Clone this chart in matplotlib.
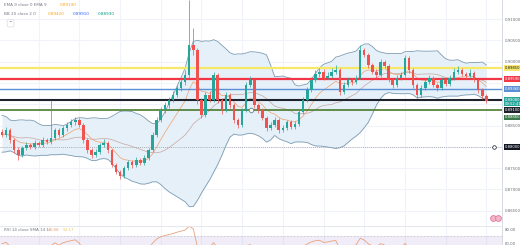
import numpy as np
import pandas as pd
import matplotlib.pyplot as plt
from matplotlib.transforms import blended_transform_factory

# ---- data ----
# closes before the first visible candle, only used to warm up the indicators
warmup_close = [0.8860, 0.8875, 0.8850, 0.8830, 0.8805, 0.8790, 0.8812, 0.8840, 0.8858, 0.8846,
                0.8820, 0.8800, 0.8815, 0.8838, 0.8852, 0.8830, 0.8808, 0.8820, 0.8835]

closes = [0.8828, 0.8839, 0.8816, 0.8792, 0.8781, 0.8797, 0.8804, 0.8800, 0.8809, 0.8804,
          0.8816, 0.8811, 0.8821, 0.8839, 0.8828, 0.8844, 0.8851, 0.8858, 0.8863, 0.8851,
          0.8816, 0.8792, 0.8781, 0.8788, 0.8804, 0.8809, 0.8792, 0.8757, 0.8741, 0.8731,
          0.8750, 0.8764, 0.8757, 0.8769, 0.8762, 0.8774, 0.8792, 0.8828, 0.8863, 0.8886,
          0.8898, 0.8910, 0.8922, 0.8938, 0.8952, 0.8969, 0.9039, 0.9027, 0.8910, 0.8875,
          0.8922, 0.8910, 0.8969, 0.8910, 0.8886, 0.8922, 0.8898, 0.8863, 0.8851, 0.8886,
          0.8945, 0.8957, 0.8898, 0.8886, 0.8868, 0.8844, 0.8851, 0.8863, 0.8839, 0.8844,
          0.8858, 0.8846, 0.8854, 0.8882, 0.8910, 0.8933, 0.8957, 0.8971, 0.8976, 0.8962,
          0.8966, 0.8976, 0.8980, 0.8929, 0.8945, 0.8957, 0.8952, 0.8962, 0.9027, 0.9016,
          0.8992, 0.8976, 0.8969, 0.8999, 0.8990, 0.8957, 0.8945, 0.8962, 0.8969, 0.9008,
          0.8980, 0.8945, 0.8922, 0.8938, 0.8952, 0.8962, 0.8945, 0.8938, 0.8957, 0.8947,
          0.8962, 0.8976, 0.8980, 0.8971, 0.8966, 0.8973, 0.8957, 0.8933, 0.8919, 0.8908]

highs = [0.8842, 0.8846, 0.8843, 0.8820, 0.8799, 0.8803, 0.8812, 0.8810, 0.8815, 0.8814,
         0.8822, 0.8821, 0.8910, 0.8845, 0.8844, 0.8850, 0.8858, 0.8866, 0.8870, 0.8868,
         0.8855, 0.8820, 0.8797, 0.8796, 0.8810, 0.8818, 0.8814, 0.8796, 0.8762, 0.8746,
         0.8755, 0.8770, 0.8769, 0.8775, 0.8774, 0.8780, 0.8798, 0.8834, 0.8870, 0.8893,
         0.8906, 0.8918, 0.8930, 0.8945, 0.8960, 0.8980, 0.9145, 0.9080, 0.9032, 0.8915,
         0.8928, 0.8930, 0.8975, 0.8973, 0.8915, 0.8928, 0.8926, 0.8903, 0.8868, 0.8892,
         0.8952, 0.8966, 0.8960, 0.8903, 0.8892, 0.8872, 0.8858, 0.8869, 0.8867, 0.8851,
         0.8864, 0.8862, 0.8860, 0.8888, 0.8916, 0.8940, 0.8964, 0.8980, 0.8986, 0.8982,
         0.8975, 0.8984, 0.8992, 0.8984, 0.8952, 0.8964, 0.8962, 0.8968, 0.9040, 0.9033,
         0.9020, 0.8997, 0.8982, 0.9006, 0.9004, 0.8994, 0.8962, 0.8968, 0.8976, 0.9015,
         0.9012, 0.8985, 0.8950, 0.8944, 0.8958, 0.8968, 0.8966, 0.8950, 0.8963, 0.8961,
         0.8968, 0.8984, 0.8990, 0.8985, 0.8976, 0.8982, 0.8977, 0.8961, 0.8938, 0.8925]

lows = [0.8822, 0.8824, 0.8810, 0.8785, 0.8770, 0.8776, 0.8792, 0.8794, 0.8796, 0.8799,
        0.8800, 0.8806, 0.8807, 0.8815, 0.8822, 0.8823, 0.8838, 0.8846, 0.8852, 0.8846,
        0.8810, 0.8786, 0.8774, 0.8776, 0.8784, 0.8800, 0.8786, 0.8752, 0.8735, 0.8725,
        0.8727, 0.8745, 0.8750, 0.8752, 0.8757, 0.8758, 0.8770, 0.8788, 0.8824, 0.8858,
        0.8880, 0.8892, 0.8904, 0.8916, 0.8932, 0.8946, 0.8962, 0.9015, 0.8900, 0.8868,
        0.8870, 0.8904, 0.8905, 0.8903, 0.8878, 0.8881, 0.8892, 0.8856, 0.8843, 0.8846,
        0.8882, 0.8940, 0.8892, 0.8880, 0.8862, 0.8838, 0.8839, 0.8846, 0.8833, 0.8834,
        0.8840, 0.8841, 0.8842, 0.8850, 0.8877, 0.8905, 0.8928, 0.8952, 0.8965, 0.8957,
        0.8958, 0.8961, 0.8972, 0.8922, 0.8925, 0.8940, 0.8946, 0.8947, 0.8958, 0.9010,
        0.8986, 0.8970, 0.8962, 0.8965, 0.8984, 0.8951, 0.8938, 0.8940, 0.8957, 0.8965,
        0.8974, 0.8938, 0.8915, 0.8918, 0.8933, 0.8947, 0.8940, 0.8931, 0.8934, 0.8942,
        0.8943, 0.8957, 0.8971, 0.8966, 0.8960, 0.8961, 0.8951, 0.8927, 0.8912, 0.8903]

first_open = 0.8835

# horizontal levels drawn on the chart
level_prices = [0.8985, 0.8959, 0.8936, 0.8910, 0.8886]
level_colors = ['#f7e86a', '#f23645', '#5b8fd6', '#1e222d', '#4a7a2c']
level_widths = [1.6, 1.6, 1.0, 1.5, 1.2]
dotted_level = 0.8800

grid_prices = [0.910, 0.905, 0.900, 0.895, 0.890, 0.885, 0.880, 0.875, 0.870, 0.865]
label_prices = [0.910, 0.905, 0.900, 0.885, 0.875, 0.870, 0.865]  # others hidden by boxes

# ---- indicators ----
all_close = pd.Series(warmup_close + closes)
n_warm = len(warmup_close)
ema9 = all_close.ewm(span=9, adjust=False).mean().values[n_warm:]
basis = all_close.rolling(20).mean()
std = all_close.rolling(20).std(ddof=0)
upper = (basis + 2 * std).values[n_warm:]
lower = (basis - 2 * std).values[n_warm:]
basis = basis.values[n_warm:]

delta = all_close.diff()
gain = delta.clip(lower=0).ewm(alpha=1/14, adjust=False).mean()
loss = (-delta.clip(upper=0)).ewm(alpha=1/14, adjust=False).mean()
rsi = (100 - 100 / (1 + gain / loss)).values[n_warm:]

opens = [first_open] + closes[:-1]
x = np.arange(len(closes))

# ---- figure ----
W, H = 520, 245
fig = plt.figure(figsize=(W / 100, H / 100), dpi=100)
plt.rcParams['font.family'] = 'DejaVu Sans'
ax = fig.add_axes([0, 1 - 226 / H, 502 / W, 226 / H])

ax.set_xlim(-0.49, 122.85)
ax.set_ylim(0.86141, 0.91446)

# grid
for gx in range(9, 120, 10):
    ax.axvline(gx, color='#f0f3fa', lw=0.8, zorder=0)
for p in grid_prices:
    ax.axhline(p, color='#f0f3fa', lw=0.8, zorder=0)

# bollinger bands
ax.fill_between(x, lower, upper, color='#e3eff8', alpha=0.9, lw=0, zorder=1)
ax.plot(x, upper, color='#7d9bb3', lw=0.6, zorder=2)
ax.plot(x, lower, color='#7d9bb3', lw=0.6, zorder=2)
ax.plot(x, basis, color='#c9a6a0', lw=0.5, zorder=2)
ax.plot(x, ema9, color='#f0a070', lw=0.5, zorder=2)

# horizontal levels
for p, c, w in zip(level_prices, level_colors, level_widths):
    ax.axhline(p, color=c, lw=w, zorder=3)
ax.axhline(dotted_level, color='#9598a1', lw=0.6, ls=(0, (1, 1.5)), zorder=3)

# candles
up_col, dn_col = '#26a69a', '#ef5350'
cols = [up_col if c >= o else dn_col for o, c in zip(opens, closes)]
ax.vlines(x, lows, highs, colors=cols, lw=0.5, zorder=4)
bottoms = [min(o, c) for o, c in zip(opens, closes)]
heights = [max(abs(c - o), 0.00006) for o, c in zip(opens, closes)]
ax.bar(x, heights, bottom=bottoms, width=0.62, color=cols, lw=0, zorder=5)

# small event markers
ax.plot([61.2], [0.8886], 'o', ms=3.2, mfc='white', mec='#7a8ca8', mew=0.7, zorder=6)
ax.plot([120.6, 121.8], [0.8634, 0.8634], 'o', ms=4.2, mfc='#f4b5c8', mec='#e07aa0',
        mew=0.6, zorder=6, clip_on=False)

# axes styling
for s in ['top', 'left', 'bottom']:
    ax.spines[s].set_visible(False)
ax.spines['right'].set_color('#d1d4dc')
ax.spines['right'].set_linewidth(0.6)
ax.set_xticks([])
ax.yaxis.tick_right()
ax.set_yticks(label_prices)
ax.set_yticklabels([f'{p:.5f}' for p in label_prices])
ax.tick_params(axis='y', length=0, pad=2, labelsize=2.8, labelcolor='#6a6d78')

# price boxes on the right scale
tr = blended_transform_factory(ax.transAxes, ax.transData)
box_specs = [
    (0.8985, '0.89850', '#f7e86a', '#131722'),
    (0.8959, '0.89590', '#f23645', 'white'),
    (0.8936, '0.89360', '#5b8fd6', 'white'),
    (0.8906, '0.89080\n09:52:41', '#26a69a', 'white'),
    (0.8886, '0.89100', '#1e222d', 'white'),
    (0.8869, '0.88860', '#3d7a4a', 'white'),
    (0.8800, '0.88000', '#131722', 'white'),
]
for p, label, bg, fg in box_specs:
    ax.text(1.005, p, label, transform=tr, ha='left', va='center', fontsize=2.7,
            color=fg, linespacing=1.0, clip_on=False, zorder=10,
            bbox=dict(boxstyle='square,pad=0.2', fc=bg, ec='none'))
ax.plot([0.985], [0.8800], 'o', transform=tr, ms=2.6, mfc='white', mec='#131722',
        mew=0.5, clip_on=False, zorder=10)

# legend text top-left
ax.text(0.008, 0.978, 'EMA 9 close 0 EMA 9', transform=ax.transAxes, fontsize=3.0,
        color='#787b86', va='center')
ax.text(0.12, 0.978, '0.89190', transform=ax.transAxes, fontsize=3.0,
        color='#f7a21b', va='center')
ax.text(0.008, 0.938, 'BB 20 close 2 0', transform=ax.transAxes, fontsize=3.0,
        color='#787b86', va='center')
ax.text(0.095, 0.938, '0.89420', transform=ax.transAxes, fontsize=3.0,
        color='#f7a21b', va='center')
ax.text(0.145, 0.938, '0.89910', transform=ax.transAxes, fontsize=3.0,
        color='#2962ff', va='center')
ax.text(0.195, 0.938, '0.88930', transform=ax.transAxes, fontsize=3.0,
        color='#089981', va='center')
ax.text(0.021, 0.897, '^', transform=ax.transAxes, fontsize=3.0, color='#131722',
        ha='center', va='center',
        bbox=dict(boxstyle='round,pad=0.4', fc='white', ec='#d1d4dc', lw=0.4))

# ---- RSI pane (only its top is visible) ----
rax = fig.add_axes([0, (H - 226 - 60) / H, 502 / W, 60 / H])
rax.set_xlim(-0.49, 122.85)
rax.set_ylim(-1.4, 84.3)
rax.axhspan(30, 70, color='#7e57c2', alpha=0.1, lw=0)
rax.axhline(70, color='#b2b5be', lw=0.4, ls=(0, (3, 3)))
for gx in range(9, 120, 10):
    rax.axvline(gx, color='#f0f3fa', lw=0.8, zorder=0)
rax.plot(x, rsi, color='#e8a27a', lw=0.6)
for s in ['left', 'bottom']:
    rax.spines[s].set_visible(False)
rax.spines['top'].set_color('#e0e3eb')
rax.spines['top'].set_linewidth(0.6)
rax.spines['right'].set_color('#d1d4dc')
rax.spines['right'].set_linewidth(0.6)
rax.set_xticks([])
rax.yaxis.tick_right()
rax.set_yticks([80, 60])
rax.set_yticklabels(['80.00', '60.00'])
rax.tick_params(axis='y', length=0, pad=2, labelsize=2.8, labelcolor='#6a6d78')
rax.text(0.008, 0.93, 'RSI 14 close SMA 14 1', transform=rax.transAxes, fontsize=3.0,
         color='#787b86', va='center')
rax.text(0.095, 0.93, '48.88', transform=rax.transAxes, fontsize=3.0,
         color='#e8a27a', va='center')
rax.text(0.125, 0.93, '52.17', transform=rax.transAxes, fontsize=3.0,
         color='#f2c94c', va='center')

fig.savefig('out.png', dpi=100)
